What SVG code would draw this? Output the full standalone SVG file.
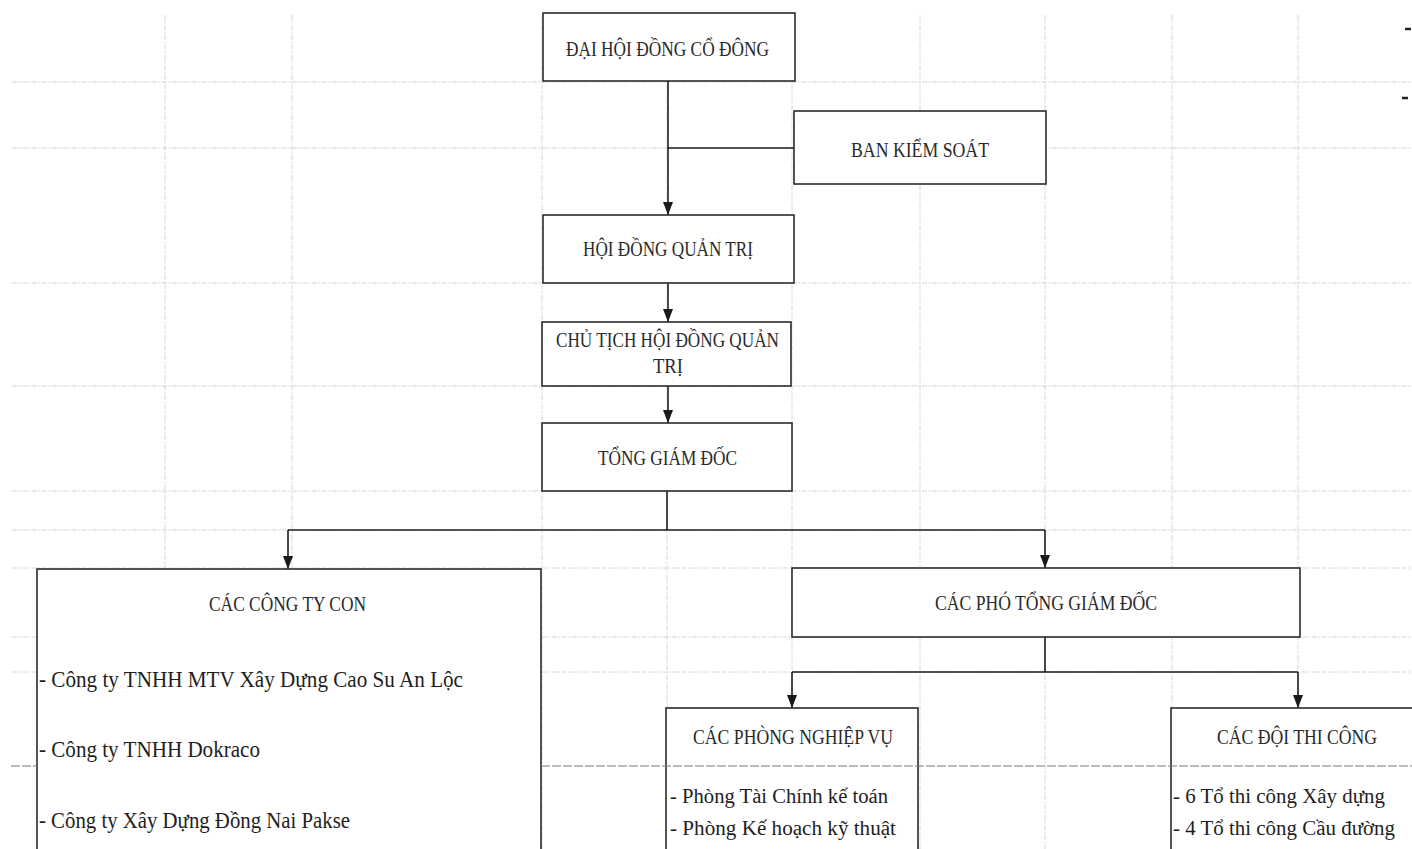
<svg xmlns="http://www.w3.org/2000/svg" width="1412" height="849" viewBox="0 0 1412 849">
<defs>
<style>
.grid{stroke:#cfcfcf;stroke-width:0.9;stroke-dasharray:5 1.5 2 1.5;fill:none}
.gridd{stroke:#7a7a7a;stroke-width:1.2;stroke-dasharray:9 2;fill:none}
.box{fill:#fff;stroke:#2b2b2b;stroke-width:1.6}
.con{stroke:#1e1e1e;stroke-width:1.6;fill:none}
.h{font-family:"Liberation Serif","Times New Roman",serif;font-size:22px;fill:#2a2a2a;text-anchor:start}
.t{font-family:"Liberation Serif","Times New Roman",serif;font-size:20px;fill:#1e1e1e}
.tc{font-family:"Liberation Serif","Times New Roman",serif;font-size:24px;fill:#1e1e1e}
</style>
<marker id="arr" viewBox="0 0 13 10" refX="13" refY="5" markerWidth="13" markerHeight="10" markerUnits="userSpaceOnUse" orient="auto">
<path d="M0,0 L13,5 L0,10 z" fill="#1a1a1a"/>
</marker>
</defs>
<rect width="1412" height="849" fill="#fff"/>
<g id="grid">
<line class="grid" x1="165" y1="15" x2="165" y2="849"/>
<line class="grid" x1="292" y1="15" x2="292" y2="849"/>
<line class="grid" x1="542" y1="15" x2="542" y2="849"/>
<line class="grid" x1="667" y1="15" x2="667" y2="849"/>
<line class="grid" x1="792" y1="15" x2="792" y2="849"/>
<line class="grid" x1="920" y1="15" x2="920" y2="849"/>
<line class="grid" x1="1045" y1="15" x2="1045" y2="849"/>
<line class="grid" x1="1172" y1="15" x2="1172" y2="849"/>
<line class="grid" x1="1298" y1="15" x2="1298" y2="849"/>
<line class="grid" x1="12" y1="82" x2="1412" y2="82"/>
<line class="grid" x1="12" y1="148" x2="1412" y2="148"/>
<line class="grid" x1="12" y1="283" x2="1412" y2="283"/>
<line class="grid" x1="12" y1="386" x2="1412" y2="386"/>
<line class="grid" x1="12" y1="491" x2="1412" y2="491"/>
<line class="grid" x1="12" y1="530" x2="1412" y2="530"/>
<line class="grid" x1="12" y1="568" x2="1412" y2="568"/>
<line class="grid" x1="12" y1="637" x2="1412" y2="637"/>
<line class="grid" x1="12" y1="672" x2="1412" y2="672"/>
<line x1="1405" y1="29" x2="1411" y2="29" stroke="#222" stroke-width="2.5"/>
<line x1="1402" y1="98" x2="1408" y2="98" stroke="#222" stroke-width="2.5"/>
</g>
<g id="connectors">
<line class="con" x1="668" y1="81" x2="668" y2="215" marker-end="url(#arr)"/>
<line class="con" x1="668" y1="148" x2="794" y2="148"/>
<line class="con" x1="668" y1="283" x2="668" y2="322" marker-end="url(#arr)"/>
<line class="con" x1="668" y1="386" x2="668" y2="423" marker-end="url(#arr)"/>
<polyline class="con" points="667,491 667,530"/>
<line class="con" x1="288" y1="530" x2="1045" y2="530"/>
<line class="con" x1="288" y1="530" x2="288" y2="569" marker-end="url(#arr)"/>
<line class="con" x1="1045" y1="530" x2="1045" y2="568" marker-end="url(#arr)"/>
<line class="con" x1="1045" y1="637" x2="1045" y2="672"/>
<line class="con" x1="792" y1="672" x2="1298" y2="672"/>
<line class="con" x1="792" y1="672" x2="792" y2="708" marker-end="url(#arr)"/>
<line class="con" x1="1298" y1="672" x2="1298" y2="708" marker-end="url(#arr)"/>
</g>
<g id="dhdcd">
<rect class="box" x="543" y="13" width="252" height="68"/>
<text class="h" x="566" y="56" textLength="203" lengthAdjust="spacingAndGlyphs">ĐẠI HỘI ĐỒNG CỔ ĐÔNG</text>
</g>
<g id="bks">
<rect class="box" x="794" y="111" width="252" height="73"/>
<text class="h" x="851" y="157" textLength="138" lengthAdjust="spacingAndGlyphs">BAN KIỂM SOÁT</text>
</g>
<g id="hdqt">
<rect class="box" x="543" y="215" width="251" height="68"/>
<text class="h" x="583" y="256" textLength="170" lengthAdjust="spacingAndGlyphs">HỘI ĐỒNG QUẢN TRỊ</text>
</g>
<g id="cthdqt">
<rect class="box" x="542" y="322" width="249" height="64"/>
<text class="h" x="556" y="347" textLength="223" lengthAdjust="spacingAndGlyphs">CHỦ TỊCH HỘI ĐỒNG QUẢN</text>
<text class="h" x="653" y="373" textLength="30" lengthAdjust="spacingAndGlyphs">TRỊ</text>
</g>
<g id="tgd">
<rect class="box" x="542" y="423" width="250" height="68"/>
<text class="h" x="598" y="465" textLength="139" lengthAdjust="spacingAndGlyphs">TỔNG GIÁM ĐỐC</text>
</g>
<g id="ctycon">
<rect class="box" x="37" y="569" width="504" height="300"/>
<text class="h" x="209" y="611" textLength="157" lengthAdjust="spacingAndGlyphs">CÁC CÔNG TY CON</text>
<text class="tc" x="39" y="687" textLength="424" lengthAdjust="spacingAndGlyphs">- Công ty TNHH MTV Xây Dựng Cao Su An Lộc</text>
<text class="tc" x="39" y="757" textLength="221" lengthAdjust="spacingAndGlyphs">- Công ty TNHH Dokraco</text>
<text class="tc" x="39" y="828" textLength="311" lengthAdjust="spacingAndGlyphs">- Công ty Xây Dựng Đồng Nai Pakse</text>
</g>
<g id="ptgd">
<rect class="box" x="792" y="568" width="508" height="69"/>
<text class="h" x="935" y="610" textLength="222" lengthAdjust="spacingAndGlyphs">CÁC PHÓ TỔNG GIÁM ĐỐC</text>
</g>
<g id="pnv">
<rect class="box" x="666" y="708" width="252" height="160"/>
<text class="h" x="693" y="744" textLength="200" lengthAdjust="spacingAndGlyphs">CÁC PHÒNG NGHIỆP VỤ</text>
<text class="t" x="670" y="803" textLength="218" lengthAdjust="spacingAndGlyphs">- Phòng Tài Chính kế toán</text>
<text class="t" x="670" y="835" textLength="226" lengthAdjust="spacingAndGlyphs">- Phòng Kế hoạch kỹ thuật</text>
</g>
<g id="dtc">
<rect class="box" x="1171" y="708" width="260" height="160"/>
<text class="h" x="1217" y="744" textLength="160" lengthAdjust="spacingAndGlyphs">CÁC ĐỘI THI CÔNG</text>
<text class="t" x="1173" y="803" textLength="212" lengthAdjust="spacingAndGlyphs">- 6 Tổ thi công Xây dựng</text>
<text class="t" x="1173" y="835" textLength="222" lengthAdjust="spacingAndGlyphs">- 4 Tổ thi công Cầu đường</text>
</g>
<g id="overlay">
<line class="gridd" x1="11" y1="766" x2="37" y2="766"/>
<line class="gridd" x1="541" y1="766" x2="1412" y2="766"/>
</g>
</svg>
